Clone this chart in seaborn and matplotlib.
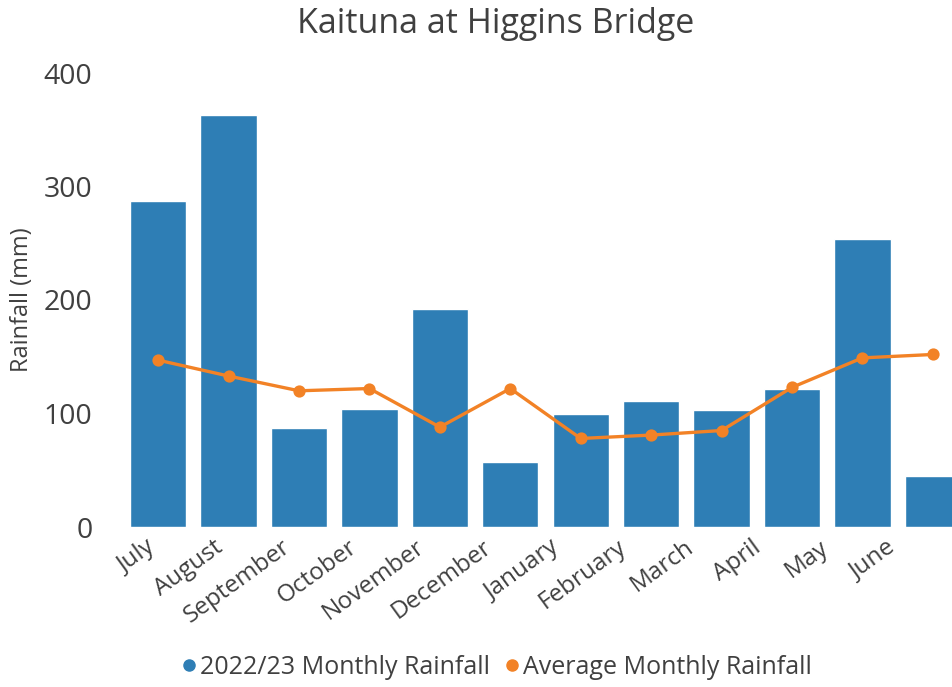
import matplotlib
matplotlib.use("Agg")
import matplotlib.pyplot as plt
from matplotlib.lines import Line2D
from matplotlib.transforms import ScaledTranslation
import seaborn as sns
import pandas as pd

months = ["July", "August", "September", "October", "November", "December",
          "January", "February", "March", "April", "May", "June"]
rain_2223 = [287, 363, 87, 104, 192, 57, 100, 111, 103, 122, 254, 45]
rain_avg = [147, 133, 120, 122, 88, 122, 78, 81, 85, 123, 149, 152]
yticks = [0, 100, 200, 300, 400]

BLUE = "#2E7EB5"
ORANGE = "#F28226"
TEXT = "#404040"

sns.set_theme(style="white")
plt.rcParams["font.family"] = ["Open Sans", "DejaVu Sans"]

df = pd.DataFrame({"Month": months, "Rain": rain_2223, "Avg": rain_avg})

fig = plt.figure(figsize=(9.52, 6.87), dpi=100)
ax = fig.add_axes([123 / 952, 160 / 687, 845 / 952, 454 / 687])

sns.barplot(data=df, x="Month", y="Rain", color=BLUE, width=0.8,
            saturation=1, ax=ax, zorder=2)
sns.pointplot(data=df, x="Month", y="Avg", color=ORANGE, markers="o",
              markersize=7, linewidth=2.4, ax=ax, zorder=3)

ax.set_ylim(0, 400)
ax.set_xlim(-0.5, 11.5)
ax.set_yticks(yticks)
ax.set_yticklabels([str(v) for v in yticks], fontsize=20.5, color=TEXT)
ax.tick_params(axis="y", length=0, pad=22)
ax.tick_params(axis="x", length=0, pad=6)
plt.setp(ax.get_xticklabels(), rotation=36, ha="right", rotation_mode="anchor",
         fontsize=17.5, color=TEXT)
# labels in the reference drift slightly left of their bars
for i, lbl in enumerate(ax.get_xticklabels()):
    dx = -(12 + 3.2 * i) / 100.0
    lbl.set_transform(lbl.get_transform() + ScaledTranslation(dx, 0, fig.dpi_scale_trans))
ax.set_xlabel("")
ax.set_ylabel("")
fig.text(22 / 952, 1 - 300 / 687, "Rainfall (mm)", rotation=90, ha="center",
         va="center", fontsize=17, color=TEXT)
for s in ax.spines.values():
    s.set_visible(False)

fig.text(496 / 952, 1 - 24 / 687, "Kaituna at Higgins Bridge", ha="center",
         va="center", fontsize=24.5, color=TEXT)

handles = [
    Line2D([], [], marker="o", linestyle="none", color=BLUE, markersize=8),
    Line2D([], [], marker="o", linestyle="none", color=ORANGE, markersize=8),
]
fig.legend(handles, ["2022/23 Monthly Rainfall", "Average Monthly Rainfall"],
           loc="center", bbox_to_anchor=(496 / 952, 1 - 667 / 687), ncol=2,
           frameon=False, fontsize=18, labelcolor=TEXT, handletextpad=0.1,
           columnspacing=0.5, handlelength=0.7)

fig.savefig("out.png", dpi=100)
